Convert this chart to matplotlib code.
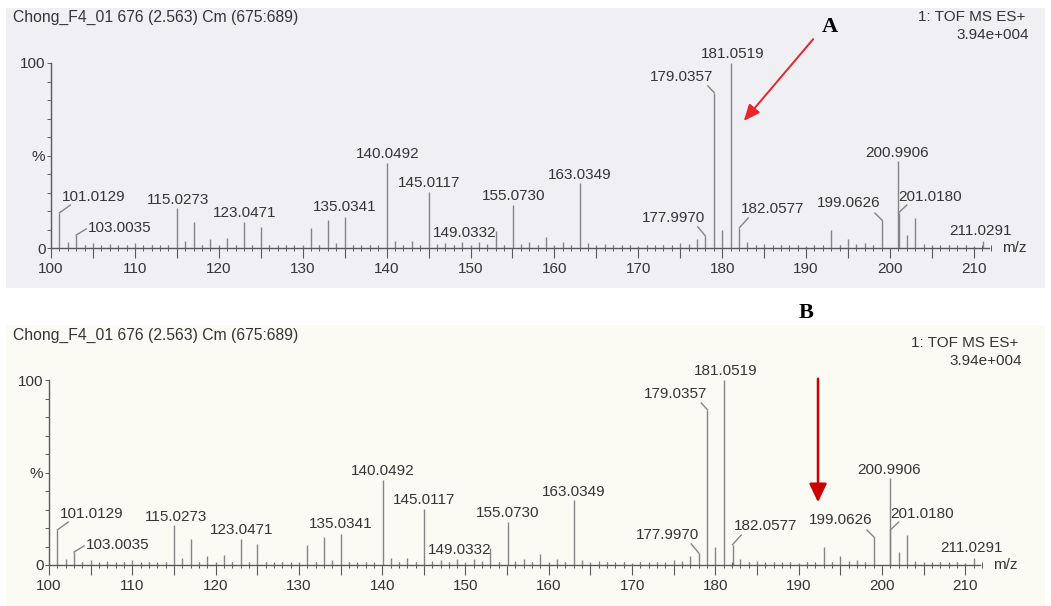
import numpy as np
import matplotlib
matplotlib.use("Agg")
import matplotlib.pyplot as plt
from matplotlib.patches import Rectangle, FancyArrowPatch
from matplotlib.ticker import MultipleLocator, FixedLocator, FixedFormatter

plt.rcParams['font.family'] = ['Liberation Sans', 'DejaVu Sans']

W, H = 1051, 606

# spectrum header
title = "Chong_F4_01 676 (2.563) Cm (675:689)"
scan_info = "1: TOF MS ES+"
base_peak = "3.94e+004"

# labelled peaks (m/z, relative intensity %)
peak_mz = [101.0129, 103.0035, 115.0273, 123.0471, 135.0341, 140.0492, 145.0117,
           149.0332, 155.0730, 163.0349, 177.9970, 179.0357, 181.0519, 182.0577,
           199.0626, 200.9906, 201.0180, 211.0291]
peak_int = [19, 7, 21.5, 14, 17, 46, 30.5,
            3, 23, 35, 6.5, 84, 100, 11,
            15, 47, 19, 4]

# unlabelled peaks
other_mz = [102, 104, 105, 106, 107, 108, 109, 110, 111, 112, 113, 114, 116, 117,
            118, 119, 120, 121, 122, 124, 125, 126, 127, 128, 129, 130, 131, 132,
            133, 134, 136, 137, 138, 139, 141, 142, 143, 144, 146, 147, 148, 150,
            151, 152, 153, 154, 156, 157, 158, 159, 160, 161, 162, 164, 165, 166,
            167, 168, 169, 170, 171, 172, 173, 174, 175, 176, 177, 180, 183, 184,
            185, 186, 187, 188, 189, 190, 191, 192, 193, 194, 195, 196, 197, 198,
            202, 203, 204, 205, 206, 207, 208, 209, 210]
other_int = [3, 1.5, 2.5, 1, 2, 1, 1.5, 2.5, 1, 1.5, 1, 1.5, 4, 14,
             1.5, 5, 1.5, 5.5, 1.5, 1.5, 11.5, 1.5, 1, 1.5, 1, 1.5, 11, 1.5,
             15, 2.5, 1.5, 1, 1.5, 1, 4, 1.5, 4, 1.5, 2, 2.5, 1.5, 1.5,
             3, 2, 9, 1.5, 2, 3, 1.5, 6, 1.5, 3, 1.5, 2.5, 1.5, 2,
             1.5, 1, 1.5, 1, 1.5, 1, 1.5, 1, 2.5, 2, 5, 10, 3, 1.5,
             2, 1, 1.5, 1, 1.5, 1, 1.5, 1, 10, 1.5, 5, 2, 2.5, 1.5,
             7, 16, 2, 1.5, 1, 1.5, 1, 1.5, 1]

# label placement: text centre and, for shifted labels, where the leader ends
label_pos = [(105.1, 27.4), (108.2, 11.0), (115.2, 26.0), (123.1, 19.1), (135.0, 22.3),
             (140.1, 50.8), (145.05, 35.3), (149.3, 7.9), (155.1, 28.0), (163.0, 39.5),
             (174.2, 16.0), (175.2, 92.3), (181.2, 104.7), (186.0, 20.9),
             (195.1, 24.2), (200.9, 51.5), (204.8, 27.7), (210.8, 9.2)]
leader_end = {101.0129: (102.3, 23.2), 103.0035: (104.2, 10.3), 177.9970: (177.1, 11.4),
              179.0357: (178.3, 87.6), 182.0577: (183.1, 16.2), 199.0626: (198.2, 18.9),
              201.0180: (202.0, 23.2)}

PEAK = '#858585'
AXIS = '#5a5a5a'
TXT = '#353535'


def fx(px):
    return px / W


def fy(py):
    return 1 - py / H


def draw_panel(fig, x100, ppu, y0, y100, bg, box, title_y, info_right, info_y):
    # panel background
    bx0, by0, bx1, by1 = box
    fig.patches.append(Rectangle((fx(bx0), fy(by1)), fx(bx1) - fx(bx0), fy(by0) - fy(by1),
                                 transform=fig.transFigure, facecolor=bg,
                                 edgecolor='none', zorder=-5))
    ax = fig.add_axes([fx(x100), fy(y0), (112 * ppu) / W, (y0 - y100) / H])
    ax.set_zorder(2)
    ax.set_xlim(100, 212)
    ax.set_ylim(0, 100)
    ax.patch.set_alpha(0)
    for s in ['top', 'right']:
        ax.spines[s].set_visible(False)
    ax.spines['bottom'].set_bounds(100, 211.8)
    ax.spines['left'].set_bounds(0, 100)
    for s in ['bottom', 'left']:
        ax.spines[s].set_color(AXIS)
        ax.spines[s].set_linewidth(1.0)

    ax.xaxis.set_major_locator(MultipleLocator(5))
    ax.xaxis.set_minor_locator(MultipleLocator(1))
    ax.xaxis.set_major_formatter(plt.FuncFormatter(
        lambda v, p: f"{int(round(v))}" if int(round(v)) % 10 == 0 else ""))
    ax.tick_params(axis='x', which='major', direction='out', length=7, width=0.8,
                   color=AXIS, labelsize=11, labelcolor=TXT, pad=3)
    ax.tick_params(axis='x', which='minor', direction='inout', length=5, width=0.7,
                   color=AXIS)

    ax.yaxis.set_major_locator(FixedLocator([0, 50, 100]))
    ax.yaxis.set_major_formatter(FixedFormatter(["0", "%", "100"]))
    ax.yaxis.set_minor_locator(MultipleLocator(10))
    ax.tick_params(axis='y', which='both', direction='out', length=3, width=0.7,
                   color=AXIS, labelsize=11, labelcolor=TXT, pad=1)

    ax.vlines(other_mz, 0, other_int, color=PEAK, lw=1.0)
    ax.vlines(peak_mz, 0, peak_int, color=PEAK, lw=1.0)
    for mz, inten, (lx, ly) in zip(peak_mz, peak_int, label_pos):
        if mz in leader_end:
            ex, ey = leader_end[mz]
            ax.plot([mz, ex], [inten, ey], color=PEAK, lw=1.0)
        ax.text(lx, ly, f"{mz:.4f}", ha='center', va='center', fontsize=11, color=TXT)

    ax.text(213.3, 0, "m/z", ha='left', va='center', fontsize=11, color=TXT)

    fig.text(fx(13), fy(title_y), title, ha='left', va='center', fontsize=11.3, color=TXT)
    fig.text(fx(info_right), fy(info_y), scan_info, ha='right', va='center',
             fontsize=11, color=TXT)
    fig.text(fx(info_right + 4), fy(info_y + 18), base_peak, ha='right', va='center',
             fontsize=11, color=TXT)
    return ax


fig = plt.figure(figsize=(W / 100, H / 100), dpi=100)
fig.patch.set_facecolor('white')

draw_panel(fig, 51, 8.39, 248, 63, '#efeff4', (6, 8, 1045, 288), 17, 1025, 17)
draw_panel(fig, 49, 8.33, 565, 380, '#fbfaf3', (6, 325, 1045, 606), 335, 1018, 343)

# panel tags and arrows
fig.text(fx(830), fy(27), "A", ha='center', va='center', fontsize=16,
         fontweight='bold', family='Liberation Serif', color='black')
fig.text(fx(806), fy(313), "B", ha='center', va='center', fontsize=16,
         fontweight='bold', family='Liberation Serif', color='black')

fig.add_artist(FancyArrowPatch(
    (fx(815), fy(37)), (fx(742), fy(123)), transform=fig.transFigure,
    arrowstyle='-|>,head_length=0.7,head_width=0.3', mutation_scale=14,
    color='#e8262a', lw=1.4, zorder=5))
fig.add_artist(FancyArrowPatch(
    (fx(818), fy(376)), (fx(818), fy(505)), transform=fig.transFigure,
    arrowstyle='-|>,head_length=0.8,head_width=0.38', mutation_scale=14,
    color='#cc0000', lw=1.8, zorder=5))

fig.savefig('out.png', dpi=100)
